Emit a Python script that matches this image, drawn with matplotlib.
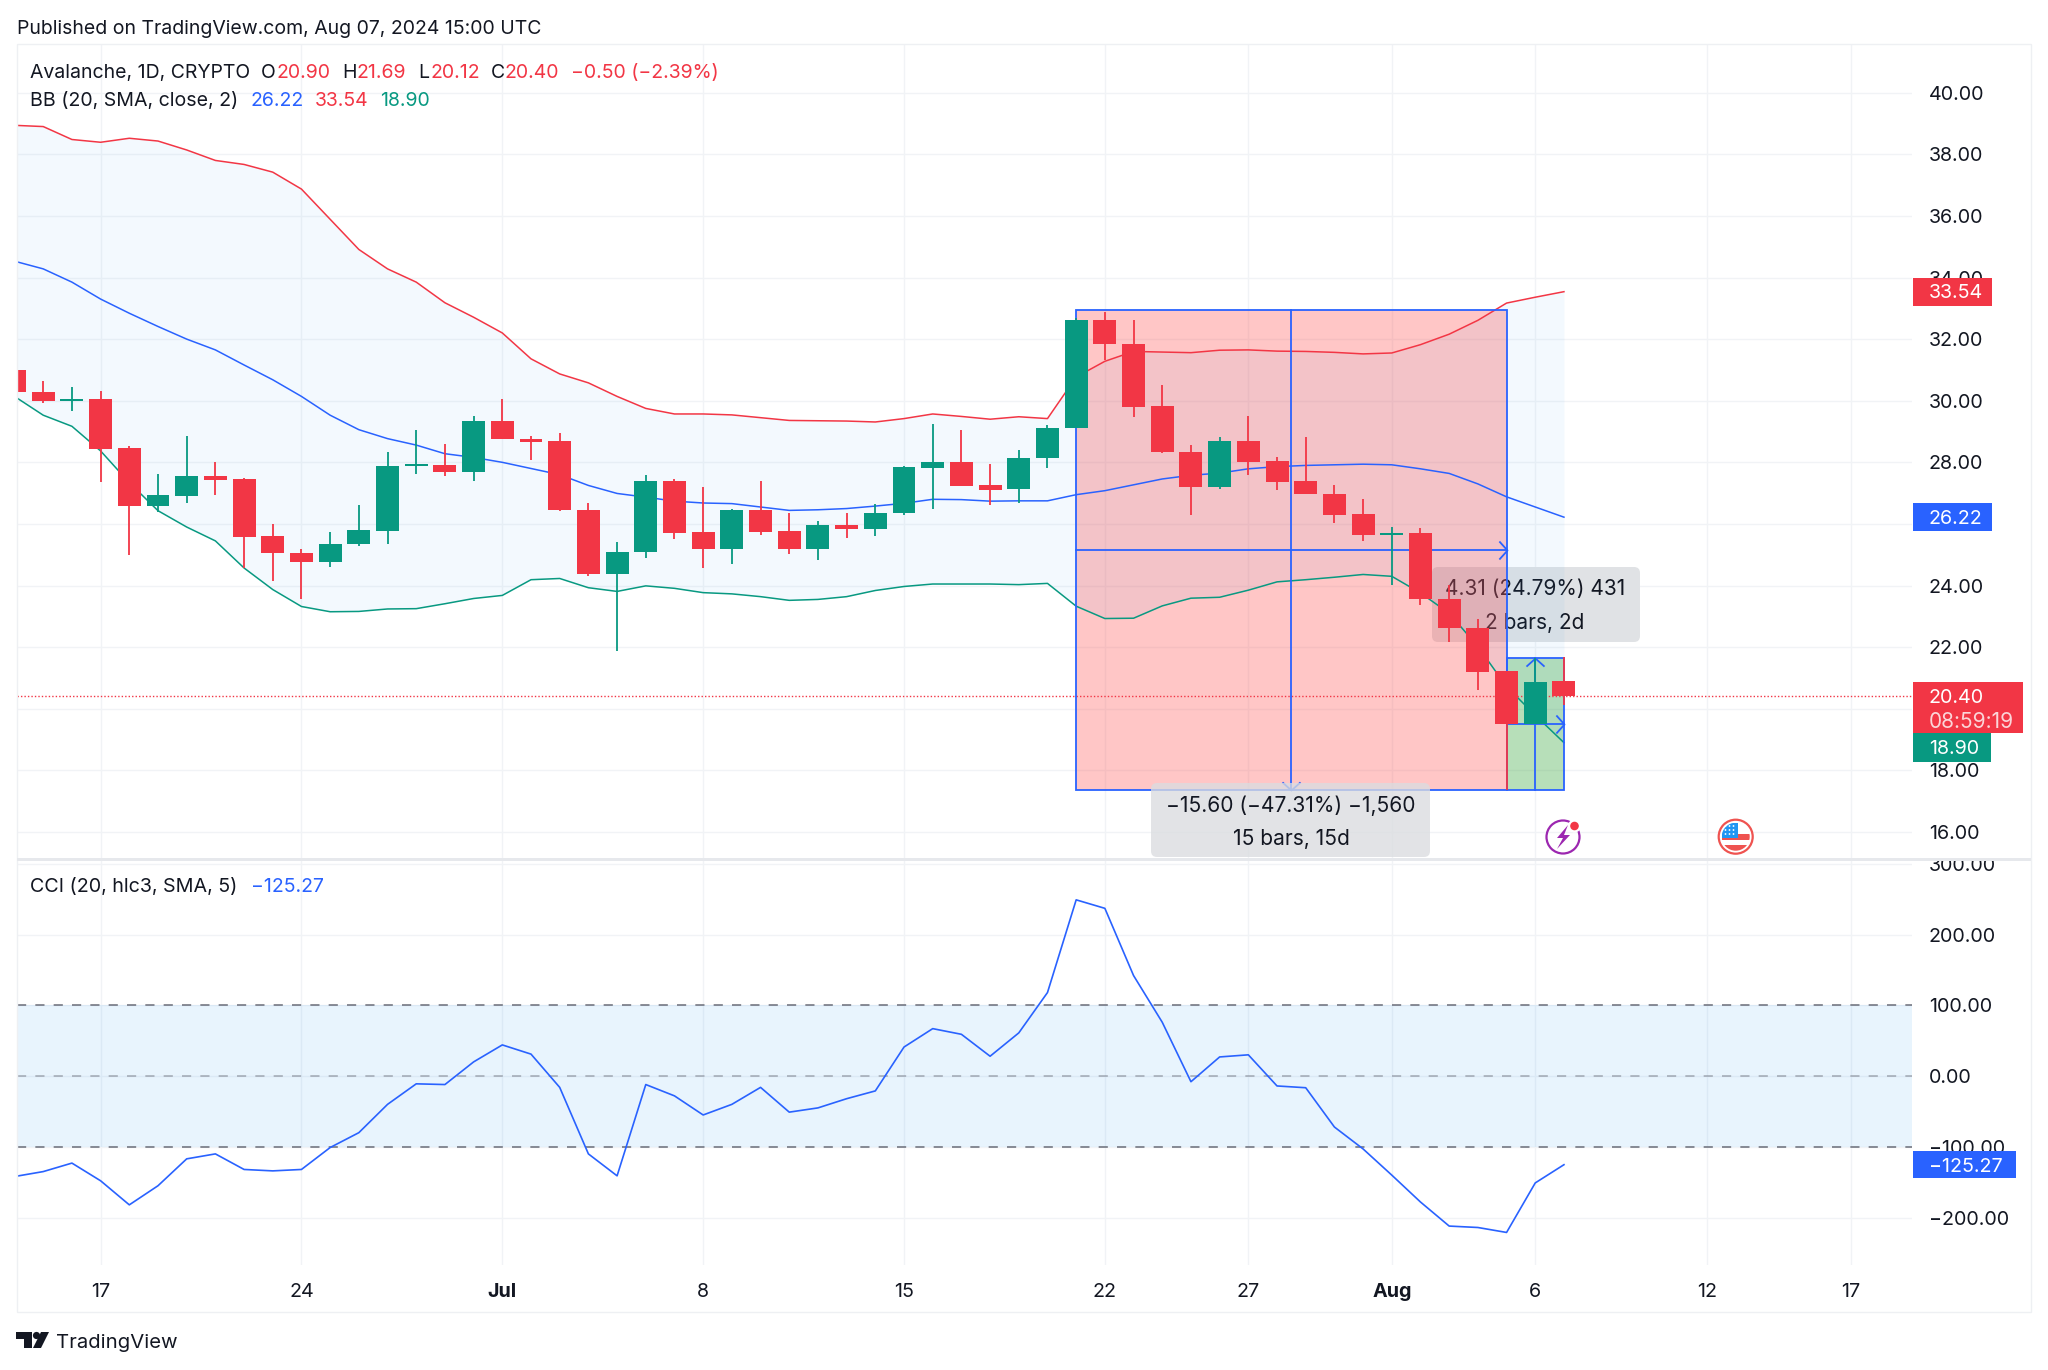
import matplotlib
matplotlib.use("Agg")
import matplotlib.pyplot as plt
from matplotlib.patches import Rectangle, FancyBboxPatch, Circle, Polygon
from matplotlib.path import Path
from matplotlib.transforms import Affine2D, Bbox

# bar numbers count days from Jun 17, first visible bar is Jun 14
first_bar = -3

opens = [31.01, 30.27, 29.99, 30.05, 28.45, 26.58, 26.91, 27.57, 27.46, 25.60, 25.07,
         24.76, 25.34, 25.77, 27.88, 27.92, 27.68, 29.34, 28.77, 28.69, 26.46, 24.38,
         25.08, 27.40, 25.74, 25.19, 26.44, 25.77, 25.19, 25.95, 25.83, 26.34, 27.82,
         28.02, 27.25, 27.12, 28.14, 29.11, 32.63, 31.85, 29.83, 28.35, 27.19, 28.70,
         28.03, 27.39, 26.98, 26.32, 25.65, 25.69, 23.57, 22.62, 21.23, 19.50, 20.90]
highs = [31.05, 30.63, 30.46, 30.33, 28.52, 27.63, 28.85, 28.01, 27.48, 26.00, 25.19,
         25.75, 26.62, 28.34, 29.04, 28.61, 29.49, 30.05, 28.87, 28.94, 26.68, 25.42,
         27.58, 27.47, 27.19, 26.49, 27.40, 26.36, 26.08, 26.34, 26.64, 27.88, 29.26,
         29.04, 27.94, 28.39, 29.21, 32.70, 32.89, 32.61, 30.52, 28.57, 28.83, 29.50,
         28.16, 28.83, 27.28, 26.82, 25.91, 25.86, 24.03, 22.92, 21.23, 21.66, 21.69]
lows = [30.25, 29.91, 29.67, 27.36, 24.99, 26.38, 26.68, 26.94, 24.57, 24.14, 23.55,
        24.59, 25.29, 25.34, 27.62, 27.55, 27.39, 28.76, 28.09, 26.42, 24.30, 21.89,
        24.89, 25.50, 24.56, 24.70, 25.64, 25.02, 24.83, 25.53, 25.60, 26.29, 26.49,
        27.23, 26.61, 26.67, 27.82, 29.10, 31.33, 29.46, 28.29, 26.28, 27.15, 27.58,
        27.10, 26.97, 26.03, 25.45, 24.03, 23.36, 22.18, 20.61, 17.35, 19.50, 20.12]
closes = [30.27, 29.99, 30.05, 28.44, 26.58, 26.95, 27.57, 27.44, 25.59, 25.05, 24.76,
          25.36, 25.79, 27.88, 27.95, 27.68, 29.34, 28.76, 28.67, 26.45, 24.38, 25.10,
          27.40, 25.72, 25.19, 26.44, 25.75, 25.19, 25.95, 25.83, 26.36, 27.84, 28.02,
          27.23, 27.11, 28.15, 29.12, 32.63, 31.85, 29.81, 28.34, 27.19, 28.70, 28.01,
          27.37, 26.97, 26.30, 25.65, 25.71, 23.56, 22.61, 21.21, 19.50, 20.88, 20.40]

bb_upper = [38.94, 38.90, 38.48, 38.39, 38.52, 38.43, 38.14, 37.80, 37.67, 37.42, 36.87,
            35.89, 34.91, 34.28, 33.85, 33.18, 32.71, 32.20, 31.36, 30.87, 30.58, 30.14,
            29.75, 29.57, 29.57, 29.54, 29.45, 29.36, 29.35, 29.34, 29.31, 29.42, 29.57,
            29.49, 29.40, 29.48, 29.42, 30.77, 31.28, 31.60, 31.58, 31.56, 31.64, 31.65,
            31.61, 31.60, 31.57, 31.52, 31.55, 31.82, 32.16, 32.61, 33.17, 33.36, 33.54]
bb_basis = [34.53, 34.28, 33.85, 33.30, 32.84, 32.41, 32.00, 31.65, 31.16, 30.68, 30.14,
            29.53, 29.06, 28.77, 28.56, 28.28, 28.16, 28.00, 27.80, 27.60, 27.25, 26.99,
            26.87, 26.74, 26.68, 26.66, 26.55, 26.44, 26.46, 26.50, 26.58, 26.67, 26.80,
            26.79, 26.74, 26.75, 26.75, 26.95, 27.08, 27.27, 27.46, 27.58, 27.65, 27.79,
            27.86, 27.90, 27.92, 27.94, 27.92, 27.79, 27.64, 27.30, 26.88, 26.55, 26.22]
bb_lower = [30.14, 29.53, 29.17, 28.37, 27.34, 26.43, 25.90, 25.45, 24.57, 23.87, 23.32,
            23.15, 23.16, 23.24, 23.25, 23.41, 23.58, 23.68, 24.19, 24.23, 23.93, 23.81,
            23.99, 23.91, 23.77, 23.73, 23.64, 23.52, 23.55, 23.64, 23.84, 23.97, 24.05,
            24.05, 24.05, 24.03, 24.07, 23.33, 22.93, 22.94, 23.34, 23.59, 23.62, 23.85,
            24.12, 24.19, 24.27, 24.36, 24.30, 23.76, 23.10, 22.02, 20.72, 19.79, 18.90]

cci = [-142, -135, -123, -148, -182, -155, -117, -110, -132, -134, -132, -101, -80, -40,
       -11, -12, 20, 44, 31, -16, -110, -141, -12, -28, -55, -40, -16, -51, -45, -32, -21,
       41, 67, 59, 28, 61, 118, 249, 237, 142, 76, -8, 27, 30, -14, -16.5, -72, -103, -140,
       -178, -212, -214, -221, -151, -125.27]

price_ticks = [16, 18, 20, 22, 24, 26, 28, 30, 32, 34, 36, 38, 40]
cci_ticks = [-200, -100, 0, 100, 200, 300]
date_ticks = [0, 7, 14, 21, 28, 35, 40, 45, 50, 56, 61]
date_labels = ["17", "24", "Jul", "8", "15", "22", "27", "Aug", "6", "12", "17"]

# the two measure tools: first bar, last bar, low price, high price
short_range = [34, 49, 17.35, 32.95]
long_range = [49, 51, 17.35, 21.66]

RED = "#F23645"
GREEN = "#089981"
BLUE = "#2962FF"
INK = "#131722"
FONT = "Inter"

plt.rcParams["font.family"] = [FONT, "DejaVu Sans"]
plt.rcParams["axes.unicode_minus"] = False


def axes_rect(left, top, right, bottom):
    return [left / 2048, 1 - bottom / 1370, (right - left) / 2048, (bottom - top) / 1370]


fig = plt.figure(figsize=(20.48, 13.70), dpi=100)
# pixel coordinates, y going down like in the screenshot
px = Affine2D().scale(1, -1).translate(0, 1370)

ax = fig.add_axes(axes_rect(17, 44, 1912, 858))
ax2 = fig.add_axes(axes_rect(17, 860, 1912, 1265), sharex=ax)

bars = list(range(first_bar, first_bar + len(closes)))
ax.set_xlim(-2.914, 63.13)
ax.set_ylim(15.156, 41.58)
ax2.set_ylim(-267, 305.3)

for a, ticks in ((ax, price_ticks), (ax2, cci_ticks)):
    a.set_yticks(ticks)
    a.set_yticklabels([f"{t:.2f}".replace("-", "\u2212") for t in ticks], fontsize=14.2, color=INK)
    a.yaxis.tick_right()
    a.tick_params(axis="y", length=0, pad=12.2)
    a.grid(True, color="#F1F3F6", linewidth=1)
    a.set_axisbelow(True)
    for s in a.spines.values():
        s.set_visible(False)

ax2.set_xticks(date_ticks)
ax2.set_xticklabels(date_labels, fontsize=14.2, color=INK)
ax2.tick_params(axis="x", length=0, pad=13)
ax.tick_params(axis="x", length=0, labelbottom=False)
for lab in ax2.get_xticklabels():
    if lab.get_text() in ("Jul", "Aug"):
        lab.set_fontweight("bold")

# the 300 label is cut off by the pane divider
for lab in ax2.get_yticklabels():
    if lab.get_text() == "300.00":
        lab.set_clip_on(True)
        lab.set_clip_box(Bbox([[1900, 1370 - 1300], [2040, 1370 - 860]]))


def draw_ruler(r, color, alpha, zorder):
    ax.add_patch(Rectangle((r[0], r[2]), r[1] - r[0], r[3] - r[2], facecolor=color, alpha=alpha,
                           linewidth=0, zorder=zorder))
    ax.add_patch(Rectangle((r[0], r[2]), r[1] - r[0], r[3] - r[2], fill=False, edgecolor=BLUE,
                           linewidth=1.3, zorder=3))
    ax.plot([(r[0] + r[1]) / 2] * 2, [r[2], r[3]], color=BLUE, lw=1.3, zorder=3)
    ax.plot([r[0], r[1]], [(r[2] + r[3]) / 2] * 2, color=BLUE, lw=1.3, zorder=3)


chevron_right = Path([(-0.9, 1), (0, 0), (-0.9, -1)])
chevron_down = Path([(-1, 0.9), (0, 0), (1, 0.9)])
chevron_up = Path([(-1, -0.9), (0, 0), (1, -0.9)])


def arrow(x, y, marker):
    ax.plot([x], [y], marker=marker, ms=13, mfc="none", mec=BLUE, mew=1.3, zorder=3, ls="none")


# label of the second ruler sits under the first ruler's fill
ax.add_patch(FancyBboxPatch((1432, 567), 208, 75, boxstyle="round,pad=0,rounding_size=6", transform=px,
                            facecolor="#E0E2E5", linewidth=0, zorder=0.8))
ax.text(1535, 589, "4.31 (24.79%) 431", transform=px, ha="center", va="center", fontsize=15,
        color=INK, zorder=0.9)
ax.text(1535, 623, "2 bars, 2d", transform=px, ha="center", va="center", fontsize=15,
        color=INK, zorder=0.9)

draw_ruler(long_range, "#4CAF50", 0.4, 1.0)
draw_ruler(short_range, "#FF5252", 0.33, 1.1)
arrow(short_range[1], (short_range[2] + short_range[3]) / 2, chevron_right)
arrow((short_range[0] + short_range[1]) / 2, short_range[2], chevron_down)
arrow(long_range[1], (long_range[2] + long_range[3]) / 2, chevron_right)
arrow((long_range[0] + long_range[1]) / 2, long_range[3], chevron_up)

# bollinger bands
ax.fill_between(bars, bb_lower, bb_upper, color="#2196F3", alpha=0.05, linewidth=0, zorder=1.5)
ax.plot(bars, bb_upper, color=RED, lw=1.1, zorder=2.5)
ax.plot(bars, bb_basis, color=BLUE, lw=1.1, zorder=2.5)
ax.plot(bars, bb_lower, color=GREEN, lw=1.1, zorder=2.5)
ax.axhline(closes[-1], color=RED, lw=1, ls=(0, (1, 1.5)), zorder=2.6)

# candles
colors = [GREEN if c >= o else RED for o, c in zip(opens, closes)]
ax.vlines(bars, lows, highs, colors=colors, linewidth=1.3, zorder=4)
ax.bar(bars, [abs(c - o) for o, c in zip(opens, closes)], bottom=[min(o, c) for o, c in zip(opens, closes)],
       width=0.8, color=colors, linewidth=0, zorder=4.1)

# label of the first ruler, above everything in its pane
ax.add_patch(FancyBboxPatch((1151, 783), 279, 74, boxstyle="round,pad=0,rounding_size=6", transform=px,
                            facecolor="#DADCE0", alpha=0.78, linewidth=0, zorder=5))
ax.text(1291, 806, "\u221215.60 (\u221247.31%) \u22121,560", transform=px, ha="center", va="center",
        fontsize=15.1, color=INK, zorder=6)
ax.text(1291, 839, "15 bars, 15d", transform=px, ha="center", va="center", fontsize=15.1, color=INK, zorder=6)

# cci pane
ax2.axhspan(-100, 100, color="#2196F3", alpha=0.1, linewidth=0, zorder=1)
for level, a in ((100, 1), (0, 0.55), (-100, 1)):
    ax2.axhline(level, color="#6A6D78", lw=1.1, ls=(0, (6, 6)), alpha=a, zorder=1.5)
ax2.plot(bars, cci, color=BLUE, lw=1.2, zorder=3)


def fig_text(x, y, s, color=INK, size=14, **kw):
    fig.text(x, y + 1.8, s, transform=px, color=color, fontsize=size, va="center", **kw)


def tag(y_top, height, right, color):
    fig.add_artist(Rectangle((1912.5, y_top), right - 1912.5, height, transform=px, facecolor=color, linewidth=0))


def price_y(a, value):
    return 1370 - a.transData.transform((0, value))[1]


# tags on the price scale
y = price_y(ax, bb_upper[-1])
tag(y - 14, 28, 1992, RED)
fig_text(1929, y, "33.54", "white", 14.2)
y = price_y(ax, bb_basis[-1])
tag(y - 14, 28, 1992, BLUE)
fig_text(1929, y, "26.22", "white", 14.2)
y = price_y(ax, closes[-1])
tag(y - 14.5, 51, 2023, RED)
fig_text(1929, y, "20.40", "white", 14.2)
fig_text(1929, y + 24, "08:59:19", "#FBD5D8", 15)
tag(733, 29, 1991, GREEN)
fig_text(1929, 747.5, "18.90", "white", 14.2)
y = price_y(ax2, cci[-1])
tag(y - 13.5, 27, 2016, BLUE)
fig_text(1929, y, "\u2212125.27", "white", 14.2)

# frame and pane divider
fig.add_artist(Rectangle((17, 44), 2014, 1268, transform=px, fill=False, edgecolor="#EEF0F3", linewidth=1))
fig.add_artist(Rectangle((17, 858), 2014, 2.5, transform=px, facecolor="#E6E8EC", linewidth=0))

# header and legends
fig_text(17, 27, "Published on TradingView.com, Aug 07, 2024 15:00 UTC")
fig_text(30, 71, "Avalanche, 1D, CRYPTO")
for x, s, c in [(261, "O", INK), (276, "20.90", RED), (342, "H", INK), (357, "21.69", RED),
                (418, "L", INK), (430, "20.12", RED), (490.5, "C", INK), (505, "20.40", RED),
                (571, "\u22120.50 (\u22122.39%)", RED)]:
    fig_text(x, 71, s, c)
fig_text(30, 99, "BB (20, SMA, close, 2)", size=14.1)
fig_text(250.6, 99, "26.22", BLUE)
fig_text(315, 99, "33.54", RED)
fig_text(380.5, 99, "18.90", GREEN)
fig_text(30, 885.5, "CCI (20, hlc3, SMA, 5)", size=14.2)
fig_text(251, 885.5, "\u2212125.27", BLUE)

# event icons below the bars
fig.add_artist(Circle((1563, 837), 16.5, transform=px, fill=False, edgecolor="#9C27B0", linewidth=1.6))
fig.add_artist(Polygon([(1568, 825), (1557, 838), (1563, 838), (1557, 849), (1570, 835), (1564, 835)],
                       transform=px, facecolor="#9C27B0", linewidth=0))
fig.add_artist(Circle((1574.5, 826), 6.5, transform=px, facecolor="white", linewidth=0))
fig.add_artist(Circle((1574.5, 826), 4.3, transform=px, facecolor=RED, linewidth=0))

flag_x, flag_y = 1735.7, 836.7
clip = Circle((flag_x, flag_y), 14, transform=px)
fig.add_artist(Circle((flag_x, flag_y), 17, transform=px, facecolor="white", edgecolor="#EF5350", linewidth=1.6))
for r in [(1722, 833.5, 28, 6, "#EF5350"), (1722, 845, 28, 6, "#EF5350"), (1722, 823, 16, 15, "#2196F3")]:
    p = fig.add_artist(Rectangle(r[:2], r[2], r[3], transform=px, facecolor=r[4], linewidth=0))
    p.set_clip_path(clip)
for dx in (1725.5, 1729.5, 1733.5):
    for dy in (826, 830, 834):
        fig.add_artist(Circle((dx, dy), 0.9, transform=px, facecolor="white", linewidth=0))

# logo
fig.add_artist(Polygon([(16, 1332), (31.5, 1332), (31.5, 1348), (24, 1348), (24, 1339), (16, 1339)], transform=px,
                       facecolor=INK, linewidth=0))
fig.add_artist(Circle((36.5, 1335.5), 3.6, transform=px, facecolor=INK, linewidth=0))
fig.add_artist(Polygon([(41, 1332), (49, 1332), (41, 1348), (33, 1348)], transform=px, facecolor=INK, linewidth=0))
fig_text(56, 1341, "TradingView", size=14.6)

fig.savefig("out.png", dpi=100, facecolor="white")
